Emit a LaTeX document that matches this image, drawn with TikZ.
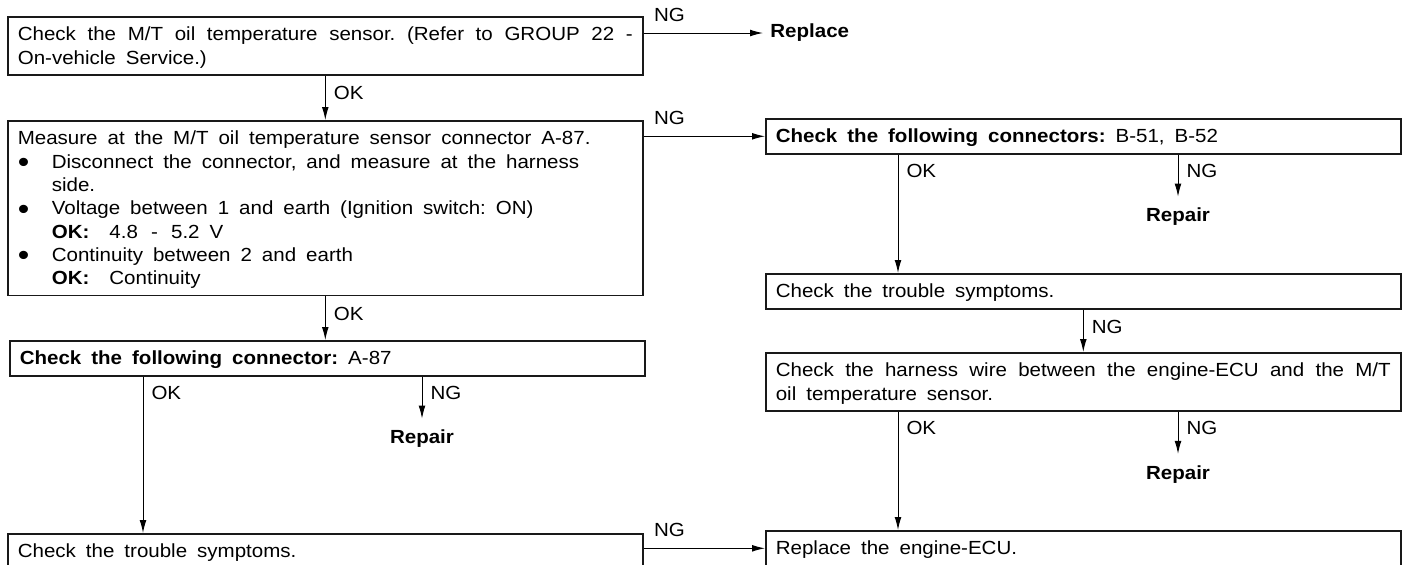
\documentclass[tikz,border=0pt]{standalone}
\usepackage{fontspec}
\setmainfont{Liberation Sans}[FakeStretch=1.08]
\usetikzlibrary{arrows.meta, positioning, calc}
\setlength{\parindent}{0pt}
\frenchspacing

\newcommand{\fs}{\fontsize{9.5pt}{11.65pt}\selectfont}
% first line: wide word spaces and top strut
\newcommand{\topstrut}{\spaceskip=5pt plus 3pt minus 1pt\relax\xspaceskip=\spaceskip\rule{0pt}{12pt}}
\newcommand{\botstrut}{\rule[-5.5pt]{0pt}{5.5pt}}
\newcommand{\bul}{\makebox[17pt][l]{\raisebox{-2.2pt}{\scalebox{1.6}{\textbullet}}}}
\newcommand{\ind}{\hspace*{17pt}}

\begin{document}
\begin{tikzpicture}[
    x=0.5pt, y=-0.5pt,
    box/.style={draw=black!90, line width=0.8pt, anchor=north west, text width=307.5pt, inner xsep=5pt, inner ysep=0pt, align=left, font=\fs},
    res/.style={font=\fs\bfseries, inner sep=0pt},
    lbl/.style={font=\fs, inner sep=0pt, anchor=base west},
    arrow/.style={-{Latex[length=6.5pt, width=3.4pt]}, line width=0.5pt}
]
\useasboundingbox (0,0) rectangle (1411,564);
\clip (0,0) rectangle (1411,564);

% Left column
\node[box] (chk1) at (7,16) {\topstrut\makebox[307.5pt][s]{Check the M/T oil temperature sensor. (Refer to GROUP 22 -}\\
On-vehicle Service.)\botstrut};
\node[box] (meas) at (7,120) {\topstrut Measure at the M/T oil temperature sensor connector A-87.\\
\bul Disconnect the connector, and measure at the harness\\
\ind side.\\
\bul Voltage between 1 and earth (Ignition switch: ON)\\
\ind\textbf{OK:}\ \ 4.8\ \,-\ \,5.2 V\\
\bul Continuity between 2 and earth\\
\ind\textbf{OK:}\ \ Continuity\botstrut};
\node[box] (conA) at (9,340) {\topstrut\textbf{Check the following connector:} A-87\botstrut};
\node[box] (symL) at (7,533) {\topstrut Check the trouble symptoms.\botstrut};

% Right column
\node[box] (conB) at (765,118) {\topstrut\textbf{Check the following connectors:} B-51, B-52\botstrut};
\node[box] (symR) at (765,273) {\topstrut Check the trouble symptoms.\botstrut};
\node[box] (wire) at (765,352) {\topstrut\makebox[307.5pt][s]{Check the harness wire between the engine-ECU and the M/T}\\
oil temperature sensor.\botstrut};
\node[box] (ecu) at (765,530) {\topstrut Replace the engine-ECU.\botstrut};

\node[res, anchor=west, inner xsep=3.5pt] (repl) at (763,33) {Replace};

% branch points
\coordinate (okA) at ([xshift=67pt]conA.south west);
\coordinate (ngA) at ([xshift=206.5pt]conA.south west);
\coordinate (okB) at ([xshift=66.5pt]conB.south west);
\coordinate (ngB) at ([xshift=206.5pt]conB.south west);
\coordinate (okW) at ([xshift=66.5pt]wire.south west);
\coordinate (ngW) at ([xshift=206.5pt]wire.south west);

\node[res, inner ysep=5.5pt, below=21pt of ngA] (repA) {Repair};
\node[res, inner ysep=5.5pt, below=21pt of ngB] (repB) {Repair};
\node[res, inner ysep=5.5pt, below=21pt of ngW] (repW) {Repair};

% NG to the right
\draw[arrow] (chk1.east |- repl.west) -- (repl.west) node[lbl, pos=0, xshift=5pt, yshift=6pt] (ng1) {NG};
\draw[arrow] (meas.east |- conB.west) -- (conB.west) node[lbl, pos=0, xshift=5pt, yshift=6pt] (ng2) {NG};
\draw[arrow] (symL.east |- ecu.west) -- (ecu.west) node[lbl, pos=0, xshift=5pt, yshift=6pt] (ng3) {NG};

% downward
\draw[arrow] (chk1.south) -- (meas.north) node[lbl, pos=0, xshift=4pt, yshift=-12pt] (ok1) {OK};
\draw[arrow] (meas.south) -- (meas.south |- conA.north) node[lbl, pos=0, xshift=4pt, yshift=-12pt] (ok2) {OK};
\draw[arrow] (okA) -- (okA |- symL.north) node[lbl, pos=0, xshift=4pt, yshift=-11.5pt] (ok3) {OK};
\draw[arrow] (ngA) -- (repA.north) node[lbl, pos=0, xshift=4pt, yshift=-11.5pt] (ng4) {NG};
\draw[arrow] (okB) -- (okB |- symR.north) node[lbl, pos=0, xshift=4pt, yshift=-11.5pt] (ok4) {OK};
\draw[arrow] (ngB) -- (repB.north) node[lbl, pos=0, xshift=4pt, yshift=-11.5pt] (ng5) {NG};
\draw[arrow] (symR.south) -- (wire.north) node[lbl, pos=0, xshift=4pt, yshift=-12pt] (ng6) {NG};
\draw[arrow] (okW) -- (okW |- ecu.north) node[lbl, pos=0, xshift=4pt, yshift=-11.5pt] (ok5) {OK};
\draw[arrow] (ngW) -- (repW.north) node[lbl, pos=0, xshift=4pt, yshift=-11.5pt] (ng7) {NG};

\end{tikzpicture}
\end{document}
